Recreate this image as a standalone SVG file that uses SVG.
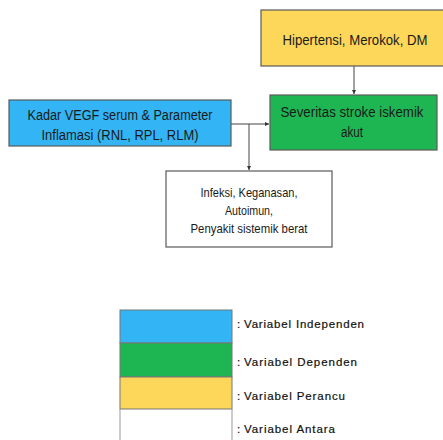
<svg xmlns="http://www.w3.org/2000/svg" width="443" height="440" viewBox="0 0 443 440">
<defs>
<style>
.box{stroke:#5a5a5a;stroke-width:1.2}
.t{font-family:"Liberation Sans",Arial,sans-serif;font-size:14px;fill:#1a1a1a;text-anchor:middle}
.tw{font-family:"Liberation Sans",Arial,sans-serif;font-size:13px;fill:#1a1a1a;text-anchor:middle}
.lg{font-family:"Liberation Sans",Arial,sans-serif;font-size:11.5px;fill:#111;stroke:#111;stroke-width:0.2}
.ln{stroke:#444;stroke-width:1;fill:none}
</style>
<marker id="ah" viewBox="0 0 6 6" refX="6" refY="3" markerWidth="4" markerHeight="4" orient="auto">
<path d="M0,0 L6,3 L0,6 z" fill="#333"/>
</marker>
</defs>
<rect width="443" height="440" fill="#fff"/>
<g id="connectors">
<path class="ln" d="M354,66 L354,94" marker-end="url(#ah)"/>
<path class="ln" d="M231,124 L269,124" marker-end="url(#ah)"/>
<path class="ln" d="M249,124 L249,170" marker-end="url(#ah)"/>
</g>
<g id="node-perancu">
<rect class="box" x="261" y="10" width="184" height="56" fill="#FCD75A"/>
<text class="t" x="355" y="45" textLength="145" lengthAdjust="spacingAndGlyphs">Hipertensi, Merokok, DM</text>
</g>
<g id="node-dependen">
<rect class="box" x="270" y="95" width="167" height="55" fill="#1EB653"/>
<text class="t" x="352" y="117" textLength="143" lengthAdjust="spacingAndGlyphs">Severitas stroke iskemik</text>
<text class="t" x="352" y="137" textLength="22" lengthAdjust="spacingAndGlyphs">akut</text>
</g>
<g id="node-independen">
<rect class="box" x="9" y="100" width="222" height="46" fill="#33B5F5"/>
<text class="t" x="120" y="120" textLength="185" lengthAdjust="spacingAndGlyphs">Kadar VEGF serum &amp; Parameter</text>
<text class="t" x="120" y="140" textLength="157" lengthAdjust="spacingAndGlyphs">Inflamasi (RNL, RPL, RLM)</text>
</g>
<g id="node-antara">
<rect class="box" x="166" y="171" width="166" height="76" fill="#fff"/>
<text class="tw" x="249" y="197" textLength="97" lengthAdjust="spacingAndGlyphs">Infeksi, Keganasan,</text>
<text class="tw" x="249" y="215" textLength="48" lengthAdjust="spacingAndGlyphs">Autoimun,</text>
<text class="tw" x="249" y="233" textLength="117" lengthAdjust="spacingAndGlyphs">Penyakit sistemik berat</text>
</g>
<g id="legend">
<rect x="120" y="310" width="112" height="33" fill="#33B5F5" stroke="#777" stroke-width="1"/>
<rect x="120" y="343" width="112" height="34" fill="#1EB653" stroke="#777" stroke-width="1"/>
<rect x="120" y="377" width="112" height="32" fill="#FCD75A" stroke="#777" stroke-width="1"/>
<path d="M120,409 L120,440 M232,409 L232,440" stroke="#999" stroke-width="1"/>
<text class="lg" x="237" y="328">:</text>
<text class="lg" x="244" y="328" textLength="120" lengthAdjust="spacing">Variabel Independen</text>
<text class="lg" x="237" y="366">:</text>
<text class="lg" x="244" y="366" textLength="113" lengthAdjust="spacing">Variabel Dependen</text>
<text class="lg" x="237" y="400" fill="#bbb" stroke="none">:</text>
<text class="lg" x="244" y="400" textLength="101" lengthAdjust="spacing">Variabel Perancu</text>
<text class="lg" x="237" y="433">:</text>
<text class="lg" x="244" y="433" textLength="91" lengthAdjust="spacing">Variabel Antara</text>
</g>
</svg>
